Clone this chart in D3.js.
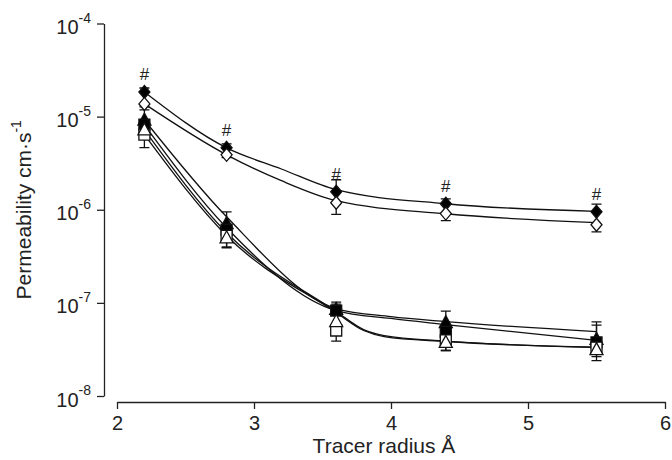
<!DOCTYPE html>
<html>
<head>
<meta charset="utf-8">
<script src="https://cdn.jsdelivr.net/npm/d3@7"></script>
<style>
  body { margin: 0; background: #fff; }
  svg { display: block; font-family: "Liberation Sans", Arial, sans-serif; }
</style>
</head>
<body>
<div id="chart"></div>
<script>
// tracer radii (Å) where permeability was measured
const radii = [2.2, 2.8, 3.6, 4.4, 5.5];
const xTicks = [2, 3, 4, 5, 6];
const yExponents = [-4, -5, -6, -7, -8];

// means (cm/s)
const filledDiamond = [1.84e-5, 4.62e-6, 1.56e-6, 1.16e-6, 9.5e-7];
const openDiamond   = [1.37e-5, 3.89e-6, 1.19e-6, 9.1e-7, 6.9e-7];
const filledTri     = [9.2e-6, 7.1e-7, 8.5e-8, 6.15e-8, 4.05e-8];
const filledSquare  = [8.2e-6, 6.1e-7, 8.27e-8, 4.9e-8, 3.76e-8];
const openSquare    = [6.4e-6, 5.26e-7, 5.05e-8, 3.95e-8, 3.3e-8];
const openTri       = [7.2e-6, 5.0e-7, 6.3e-8, 3.76e-8, 3.15e-8];

// standard errors (drawn up for filled symbols, down for open ones)
const filledDiamondErr = [1.9e-6, 4.8e-7, 5.4e-7, 1.5e-7, 2.0e-7];
const openDiamondErr   = [1.0e-6, 2.7e-7, 3.0e-7, 1.45e-7, 1.1e-7];
const filledTriErr     = [2.6e-6, 2.4e-7, 1.2e-8, 2.0e-8, 2.2e-8];
const filledSquareErr  = [1.0e-6, 6.0e-8, 1.9e-8, 6.0e-9, 2.0e-8];
const openSquareErr    = [1.75e-6, 1.35e-7, 1.17e-8, 8.7e-9, 9.0e-9];
const openTriErr       = [1.2e-6, 1.0e-7, 8.0e-9, 6.8e-9, 5.0e-9];

// fitted curves
const fitUpperX = [2.2, 2.8, 3.2, 3.6, 4.4, 5.5];
const fitFilledDiamond = [1.84e-5, 4.62e-6, 2.74e-6, 1.64e-6, 1.16e-6, 9.6e-7];
const fitOpenDiamond   = [1.37e-5, 3.89e-6, 2.05e-6, 1.25e-6, 9.06e-7, 7.26e-7];
const fitFilledX = [2.2, 2.8, 3.6, 4.0, 4.4, 5.5];
const fitFilledTri     = [9.2e-6, 8.4e-7, 8.7e-8, 7.13e-8, 6.3e-8, 4.92e-8];
const fitFilledSquare  = [8.15e-6, 6.41e-7, 8.27e-8, 6.8e-8, 5.85e-8, 3.95e-8];
const fitOpenX = [2.2, 2.8, 3.6, 3.8, 3.95, 4.4, 5.5];
const fitOpenTri       = [7.2e-6, 5.66e-7, 8.07e-8, 5.17e-8, 4.46e-8, 3.88e-8, 3.34e-8];
const fitOpenSquare    = [6.4e-6, 5.26e-7, 7.87e-8, 5.05e-8, 4.35e-8, 3.85e-8, 3.32e-8];

const width = 672, height = 460;

const x = d3.scaleLinear().domain([2, 6]).range([117, 665]);
const y = d3.scaleLog().domain([1e-8, 1e-4]).range([396, 23.5]);
const yAxisX = 104, xAxisY = 402;

const shapes = {
  diamond: "M0,-6.5L5.5,0L0,6.5L-5.5,0Z",
  triangle: "M0,-7L6.5,5L-6.5,5Z",
  square: "M-5.5,-5.5H5.5V5.5H-5.5Z"
};

const series = [
  { mean: filledDiamond, err: filledDiamondErr, shape: "diamond", open: false, fx: fitUpperX, fy: fitFilledDiamond },
  { mean: openDiamond, err: openDiamondErr, shape: "diamond", open: true, fx: fitUpperX, fy: fitOpenDiamond },
  { mean: filledTri, err: filledTriErr, shape: "triangle", open: false, fx: fitFilledX, fy: fitFilledTri },
  { mean: filledSquare, err: filledSquareErr, shape: "square", open: false, fx: fitFilledX, fy: fitFilledSquare },
  { mean: openSquare, err: openSquareErr, shape: "square", open: true, fx: fitOpenX, fy: fitOpenSquare },
  { mean: openTri, err: openTriErr, shape: "triangle", open: true, fx: fitOpenX, fy: fitOpenTri }
];

const svg = d3.select("#chart").append("svg")
    .attr("width", width)
    .attr("height", height);

// axes

const xAxis = d3.axisBottom(x).tickValues(xTicks).tickFormat(d3.format("d"))
    .tickSize(7).tickSizeOuter(0).tickPadding(7);
svg.append("g")
    .attr("transform", `translate(0, ${xAxisY})`)
    .call(xAxis)
    .call(g => g.selectAll("text").attr("font-size", 20).attr("font-family", null).attr("fill", "#222"))
    .call(g => g.selectAll("line, path").attr("stroke", "#222").attr("stroke-width", 1.3));

const yAxis = d3.axisLeft(y).tickValues(yExponents.map(e => Math.pow(10, e)))
    .tickSize(7).tickSizeOuter(0).tickPadding(6).tickFormat("");
const yg = svg.append("g")
    .attr("transform", `translate(${yAxisX}, 0)`)
    .call(yAxis)
    .call(g => g.selectAll("line, path").attr("stroke", "#222").attr("stroke-width", 1.3));

yg.selectAll(".tick text")
    .attr("font-size", 20)
    .attr("font-family", null)
    .attr("fill", "#222")
    .attr("dy", "0.5em")
    .each(function(d) {
      const t = d3.select(this);
      t.append("tspan").text("10");
      t.append("tspan").attr("font-size", 14).attr("dy", "-0.8em").text(Math.round(Math.log10(d)));
    });

// axis titles
svg.append("text")
    .attr("x", x(4) - 7)
    .attr("y", 453)
    .attr("text-anchor", "middle")
    .attr("font-size", 21)
    .attr("fill", "#222")
    .text("Tracer radius Å");

const yt = svg.append("text")
    .attr("transform", `translate(31, ${(y.range()[0] + y.range()[1]) / 2}) rotate(-90)`)
    .attr("text-anchor", "middle")
    .attr("font-size", 21)
    .attr("fill", "#222");
yt.append("tspan").text("Permeability cm·s");
yt.append("tspan").attr("font-size", 14).attr("dy", "-0.75em").text("-1");

// fitted curves

const line = d3.line()
    .x(d => x(d[0]))
    .y(d => y(d[1]))
    .curve(d3.curveMonotoneX);

svg.append("g")
  .selectAll("path")
  .data(series)
  .join("path")
    .attr("d", s => line(s.fx.map((v, i) => [v, s.fy[i]])))
    .attr("fill", "none")
    .attr("stroke", "#111")
    .attr("stroke-width", 1.3);

// error bars

const points = series.flatMap(s => radii.map((r, i) => ({ r, m: s.mean[i], e: s.err[i], s })));

svg.append("g")
    .attr("stroke", "#111")
    .attr("stroke-width", 1.3)
  .selectAll("path")
  .data(points)
  .join("path")
    .attr("fill", "none")
    .attr("d", d => {
      const cx = x(d.r), cy = y(d.m);
      const end = d.s.open ? y(d.m - d.e) : y(d.m + d.e);
      return `M${cx},${cy}V${end}M${cx - 5},${end}H${cx + 5}`;
    });

// markers

svg.append("g")
  .selectAll("path")
  .data(points)
  .join("path")
    .attr("transform", d => `translate(${x(d.r)}, ${y(d.m)})`)
    .attr("d", d => shapes[d.s.shape])
    .attr("fill", d => d.s.open ? "#fff" : "#000")
    .attr("stroke", "#111")
    .attr("stroke-width", 1.3);

// significance marks above the filled diamonds
svg.append("g")
  .selectAll("text")
  .data(radii)
  .join("text")
    .attr("x", d => x(d))
    .attr("y", (d, i) => y(filledDiamond[i]) - 18)
    .attr("dy", "0.35em")
    .attr("text-anchor", "middle")
    .attr("font-size", 17)
    .attr("fill", "#222")
    .text("#");
</script>
</body>
</html>
